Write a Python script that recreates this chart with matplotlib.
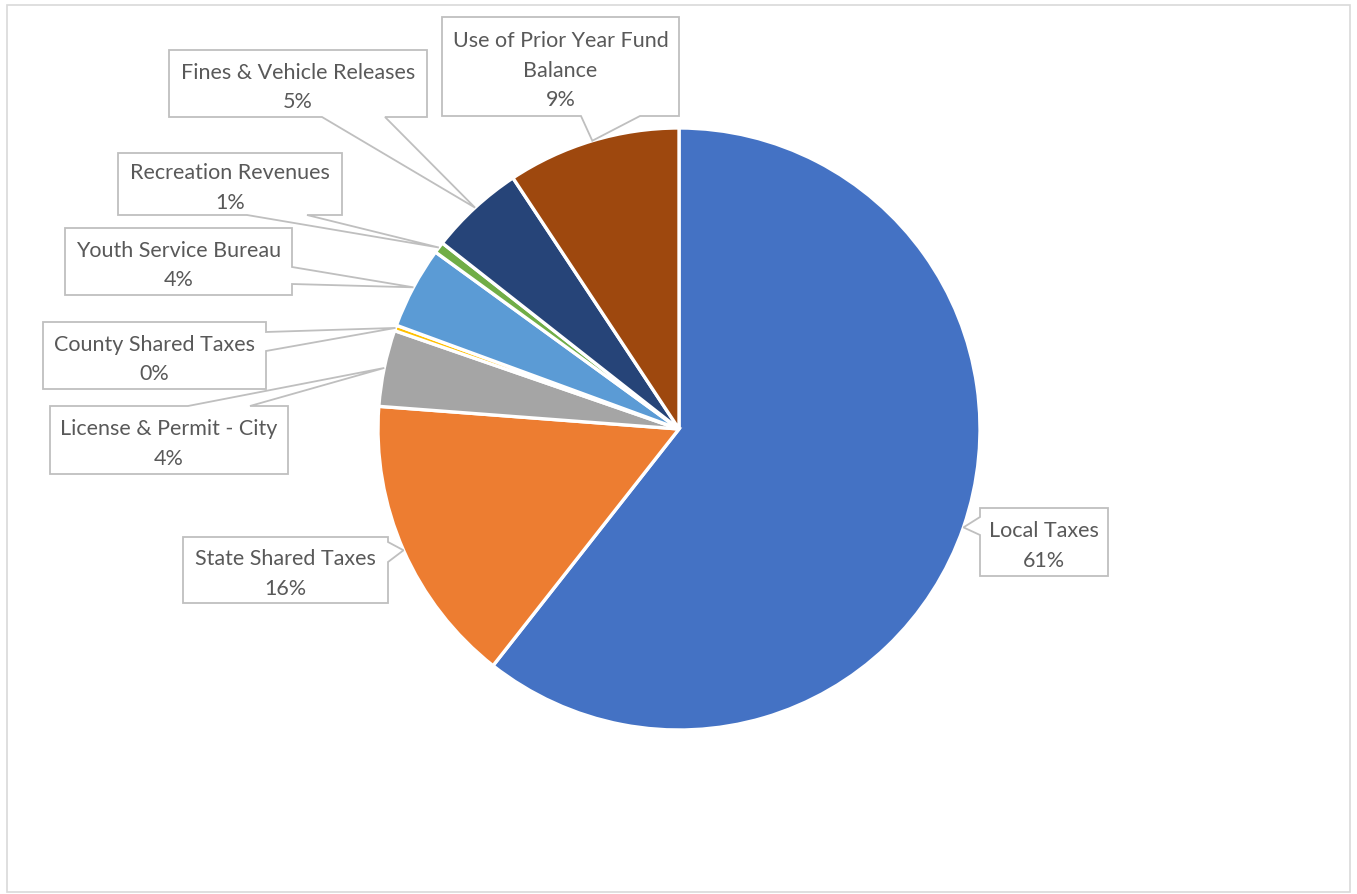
import numpy as np
import matplotlib
matplotlib.use("Agg")
import matplotlib.pyplot as plt
from matplotlib.patches import Polygon, Rectangle

# 資料
categories = ["Local Taxes", "State Shared Taxes", "License & Permit - City",
              "County Shared Taxes", "Youth Service Bureau", "Recreation Revenues",
              "Fines & Vehicle Releases", "Use of Prior Year Fund Balance"]
shares = [60.6, 15.6, 4.1, 0.3, 4.4, 0.6, 5.1, 9.3]
colors = ["#4472C4", "#ED7D31", "#A5A5A5", "#FFC000",
          "#5B9BD5", "#70AD47", "#264478", "#9E480E"]
label_lines = [["Local Taxes"], ["State Shared Taxes"], ["License & Permit - City"],
               ["County Shared Taxes"], ["Youth Service Bureau"], ["Recreation Revenues"],
               ["Fines & Vehicle Releases"], ["Use of Prior Year Fund", "Balance"]]

# 標註框 (像素座標, 左上為原點): box, 邊, 底邊兩點
callouts = [
    ((980, 509, 1108, 577), "left", (518, 536)),
    ((183, 538, 388, 604), "right", (543, 563)),
    ((50, 407, 288, 475), "top", (188, 250)),
    ((43, 323, 266, 390), "right", (333, 352)),
    ((65, 229, 292, 296), "right", (268, 285)),
    ((118, 154, 342, 216), "bottom", (247, 307)),
    ((169, 51, 427, 118), "bottom", (322, 385)),
    ((442, 18, 679, 117), "bottom", (581, 640)),
]

W, H = 1357, 895
CX, CY, R = 679, 430, 301

fig = plt.figure(figsize=(W / 100, H / 100), dpi=100)
ax = fig.add_axes([0, 0, 1, 1])

wedges, _ = ax.pie(shares, colors=colors, startangle=90, counterclock=False,
                   center=(CX, H - CY), radius=R,
                   wedgeprops=dict(edgecolor="white", linewidth=2.4))
ax.set_xlim(0, W)
ax.set_ylim(0, H)
ax.set_aspect("equal")
ax.axis("off")

# 外框
ax.add_patch(Rectangle((7, H - 893), 1343, 887, fill=False, edgecolor="#d9d9d9", lw=1.2))


def flip(p):
    return (p[0], H - p[1])


for w, (box, side, base), lines, val in zip(wedges, callouts, label_lines, shares):
    mid = np.deg2rad((w.theta1 + w.theta2) / 2)
    tip = (CX + R * np.cos(mid), CY - R * np.sin(mid))
    x0, y0, x1, y1 = box
    a, b = base
    pts = [(x0, y0)]
    if side == "top":
        pts += [(a, y0), tip, (b, y0)]
    pts += [(x1, y0)]
    if side == "right":
        pts += [(x1, a), tip, (x1, b)]
    pts += [(x1, y1)]
    if side == "bottom":
        pts += [(b, y1), tip, (a, y1)]
    pts += [(x0, y1)]
    if side == "left":
        pts += [(x0, b), tip, (x0, a)]
    ax.add_patch(Polygon([flip(p) for p in pts], closed=True, facecolor="white",
                         edgecolor="#bfbfbf", lw=1.3, zorder=3))
    txt = "\n".join(lines + ["{:.0f}%".format(val)])
    ax.text((x0 + x1) / 2, H - (y0 + y1) / 2 - 3, txt, ha="center", va="center",
            fontsize=15.5, family="Lato", color="#595959", linespacing=1.6, zorder=4)

fig.savefig("out.png", dpi=100, facecolor="white")
